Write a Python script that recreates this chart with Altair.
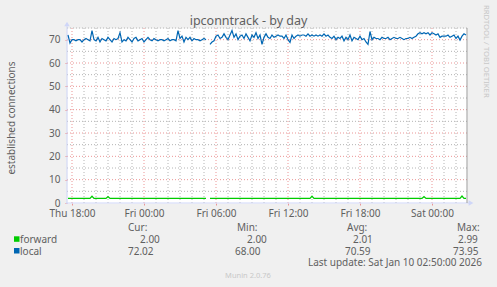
import json
import altair as alt
import pandas as pd

# ------------------------------------------------------------------ data
# time axis: hours since Thu 00:00, one sample every 10 minutes from Thu 17:40
start_hour = 17 + 40 / 60
step_hour = 10 / 60

local = [
    72, 68.5, 70, 70, 69.5, 70, 70, 69, 70, 70.5, 70, 69.5,
    73.9,
    70, 69.5, 71, 69, 70.5, 70, 69.5, 71, 70, 69, 70.5, 70, 70.5,
    73, 69,
    70, 69.5, 71, 70, 69, 70.5, 71, 69.5, 70, 70.5, 69, 70, 71, 70, 69.5,
    70.5, 70, 69.5, 70, 70, 69.5, 70, 70.5, 69.5, 70, 70, 69.5,
    73.9, 70.5, 71.5, 69, 71, 70, 71, 69.5, 70.5, 70, 70, 69.5, 70, 70.5, 70,
    None, 68,
    69, 69.5, 71.5, 72, 70.5, 71, 72.5, 71, 70, 72, 73.9, 71, 72.5, 70,
    71.5, 72, 70.5, 72.5, 71, 69.5, 72, 71, 73, 70.5, 72, 68, 71, 72.5,
    71, 70.5, 72, 71, 71.5, 72, 71.5, 71.5, 70.5, 72,
    70, 68.8, 72, 70.5, 71.5, 72, 71.5, 72, 72, 71.5,
    72.5, 71.5, 72, 71.5, 72, 71.5, 72, 71.5, 72.5, 71.5,
    72, 71, 70.5, 71.5, 70, 71, 70.5, 71.5, 69.5, 71,
    70, 72, 69.5, 71, 70.5, 70, 71.5, 70, 70.5, 69,
    68, 73.5, 70, 71, 70.5, 70.5, 70, 71, 70.5, 70.5,
    71, 70, 70.5, 71, 70.5, 70.5, 71, 70.5, 70, 70.5,
    70.5, 71, 70.5, 71, 71.5, 72.5, 73, 72.5, 73, 72.5,
    73, 72, 73, 72.5, 72, 72.5, 71, 71.5, 71.5, 71.5,
    72, 71, 71.5, 72, 70.5, 71.5, 69.8, 71.5, 72.5, 72,
]

forward = [
    2, 2, 2, 2, 2, 2, 2, 2, 2, 2, 2, 2, 2.9, 2, 2, 2, 2, 2, 2, 2,
    2.8, 2, 2, 2, 2, 2, 2, 2, 2, 2, 2, 2, 2, 2, 2, 2, 2, 2, 2, 2,
    2, 2, 2, 2, 2, 2, 2, 2, 2, 2, 2, 2, 2, 2, 2, 2, 2, 2, 2, 2,
    2, 2, 2, 2, 2, 2, 2, 2, 2, 2, None, 2, 2, 2, 2, 2, 2, 2, 2, 2,
    2, 2, 2, 2, 2, 2, 2, 2, 2, 2, 2, 2, 2, 2, 2, 2, 2, 2, 2, 2,
    2, 2, 2, 2, 2, 2, 2, 2, 2, 2, 2, 2, 2, 2, 2, 2, 2, 2, 2, 2,
    2, 2, 2.9, 2, 2, 2, 2, 2, 2, 2, 2, 2, 2, 2, 2, 2, 2, 2, 2, 2,
    2, 2, 2, 2, 2, 2, 2, 2, 2, 2, 2, 2, 2, 2, 2, 2, 2, 2, 2, 2,
    2, 2, 2, 2, 2, 2, 2, 2, 2, 2, 2, 2, 2, 2, 2, 2, 2, 2, 2.8, 2,
    2, 2, 2, 2, 2, 2, 2, 2, 2, 2, 2, 2, 2, 2, 2, 2, 2, 2.99, 2, 2,
]

series_names = ["forward", "local"]
series_colors = ["#00CC00", "#0066B3"]
stat_cur = [2.00, 72.02]
stat_min = [2.00, 68.00]
stat_avg = [2.01, 70.59]
stat_max = [2.99, 73.95]

x_tick_hours = [18, 24, 30, 36, 42, 48]
x_tick_labels = ["Thu 18:00", "Fri 00:00", "Fri 06:00", "Fri 12:00", "Fri 18:00", "Sat 00:00"]
x_minor = [19, 20, 21, 22, 23, 25, 26, 27, 28, 29, 31, 32, 33, 34, 35,
           37, 38, 39, 40, 41, 43, 44, 45, 46, 47, 49, 50]
y_ticks = [0, 10, 20, 30, 40, 50, 60, 70]
y_major = [10, 20, 30, 40, 50, 60, 70]
y_minor = [5, 15, 25, 35, 45, 55, 65, 75]

x_domain = [17 + 35 / 60, 50 + 55 / 60]
y_domain = [0, 75]

title_text = "ipconntrack - by day"
y_title_text = "established connections"
last_update_text = "Last update: Sat Jan 10 02:50:00 2026"
watermark_text = "Munin 2.0.76"
side_text = "RRDTOOL / TOBI OETIKER"

# ------------------------------------------------------------------ style
FONT = "Noto Sans"
FG = "#606060"
OX, OY = 67, 28           # plot origin on the canvas
W, H = 400, 175
GRID = "#b4b4b4"
MGRID = "#eb9595"
AXIS = "#CFD6F8"

# ------------------------------------------------------------------ frame
rows = []
for name, vals in (("forward", forward), ("local", local)):
    for i, v in enumerate(vals):
        if v is None:
            continue
        rows.append({"h": start_hour + i * step_hour, "v": v,
                     "series": name, "seg": 0 if i < 70 else 1})
df = pd.DataFrame(rows)

xs = alt.Scale(domain=x_domain, nice=False, zero=False)
ys = alt.Scale(domain=y_domain, nice=False, zero=False)

label_expr = "{}[indexof({}, datum.value)]".format(json.dumps(x_tick_labels), json.dumps(x_tick_hours))

AX_X = alt.Axis(values=x_tick_hours, labelExpr=label_expr, grid=False, domain=False,
                ticks=True, tickSize=2, tickColor=MGRID, labelPadding=3,
                labelFont=FONT, labelFontSize=10, labelColor=FG,
                labelFlush=False, labelOverlap=False, title=None)
AX_Y = alt.Axis(values=y_ticks, grid=False, domain=False, ticks=True, tickSize=2,
                tickColor=MGRID, labelPadding=5, labelFont=FONT, labelFontSize=10,
                labelColor=FG, title=None)


def X():
    return alt.X("h:Q", scale=xs, axis=AX_X, title=None)


def Y():
    return alt.Y("v:Q", scale=ys, axis=AX_Y, title=None)


def hgrid(vals, color):
    return alt.Chart(pd.DataFrame({"v": vals})).mark_rule(
        color=color, strokeWidth=1, strokeDash=[1, 2]
    ).encode(y=Y())


def vgrid(vals, color):
    return alt.Chart(pd.DataFrame({"h": vals})).mark_rule(
        color=color, strokeWidth=1, strokeDash=[1, 2]
    ).encode(x=X())


def txt(text, x_abs, y_abs, size=10, color=FG, align="left", angle=0, baseline="alphabetic"):
    return alt.Chart(pd.DataFrame({"t": [text]})).mark_text(
        align=align, baseline=baseline, fontSize=size, font=FONT, color=color, angle=angle
    ).encode(x=alt.value(x_abs - OX), y=alt.value(y_abs - OY), text="t:N")


lines = alt.Chart(df).mark_line(strokeWidth=1.2, interpolate="linear").encode(
    x=X(),
    y=Y(),
    color=alt.Color("series:N", scale=alt.Scale(domain=series_names, range=series_colors), legend=None),
    detail="seg:N",
)

one = pd.DataFrame({"a": [0]})
left_axis = alt.Chart(one).mark_rule(color=AXIS, strokeWidth=1).encode(
    x=alt.value(0), y=alt.value(H + 1), y2=alt.value(-5))
bottom_axis = alt.Chart(one).mark_rule(color=AXIS, strokeWidth=1).encode(
    y=alt.value(H), x=alt.value(-1), x2=alt.value(W + 4))
up_arrow = alt.Chart(one).mark_point(shape="triangle-up", filled=True, color=AXIS, size=30, opacity=1).encode(
    x=alt.value(0), y=alt.value(-4))
right_arrow = alt.Chart(one).mark_point(shape="triangle-right", filled=True, color=AXIS, size=30, opacity=1).encode(
    x=alt.value(W + 4), y=alt.value(H))
right_border = alt.Chart(one).mark_rule(color="#9a9a9a", strokeWidth=1).encode(
    x=alt.value(W), y=alt.value(0), y2=alt.value(H))

layers = [
    hgrid(y_minor, GRID), vgrid(x_minor, GRID),
    hgrid(y_major, MGRID), vgrid(x_tick_hours, MGRID),
    left_axis, bottom_axis, up_arrow, right_arrow, right_border,
    lines,
    txt(title_text, 248.5, 25, size=12.5, align="center"),
    txt(y_title_text, 14.5, 118, size=10, align="center", angle=270),
    txt(side_text, 483.5, 5, size=7.7, color="#c8c8c8", angle=90),
]

# legend
col_head_x = [128, 237, 347, 457]
col_val_x = [[140, 128], [247, 235], [353, 345], [458, 453]]
head_y, row_y = 231, [243.3, 255]
for k, head in enumerate(["Cur:", "Min:", "Avg:", "Max:"]):
    layers.append(txt(head, col_head_x[k], head_y))
for r, name in enumerate(series_names):
    layers.append(
        alt.Chart(one).mark_rect(color=series_colors[r]).encode(
            x=alt.value(14 - OX), x2=alt.value(19.5 - OX),
            y=alt.value(row_y[r] - 7 - OY), y2=alt.value(row_y[r] - 1.5 - OY)))
    layers.append(txt(name, 20, row_y[r]))
    for k, stat in enumerate([stat_cur, stat_min, stat_avg, stat_max]):
        layers.append(txt("{:.2f}".format(stat[r]), col_val_x[k][r], row_y[r]))

layers.append(txt(last_update_text, 482, 266, align="right"))
layers.append(txt(watermark_text, 248, 277.5, size=7.5, color="#c8c8c8", align="center"))

chart = alt.layer(*layers).properties(
    width=W, height=H,
    autosize=alt.AutoSizeParams(type="none"),
    padding={"left": OX, "top": OY, "right": 497 - OX - W, "bottom": 287 - OY - H},
    background="#F0F0F0",
).configure_view(fill="white", stroke="transparent")

chart.save("out.html", embed_options={"renderer": "svg", "actions": False})
